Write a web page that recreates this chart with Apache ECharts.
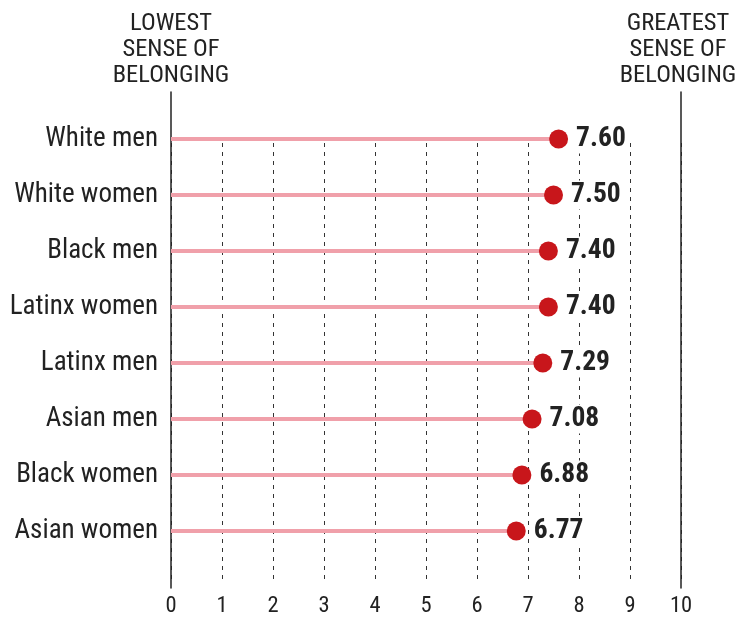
<!DOCTYPE html>
<html><head><meta charset="utf-8">
<script src="https://cdn.jsdelivr.net/npm/echarts@6/dist/echarts.min.js"></script>
<style>html,body{margin:0;padding:0;background:#fff}#c{width:737px;height:618px}</style>
</head><body><div id="c"></div>
<script>
const categories = ['White men','White women','Black men','Latinx women','Latinx men','Asian men','Black women','Asian women'];
const values = [7.60, 7.50, 7.40, 7.40, 7.29, 7.08, 6.88, 6.77];
const xTicks = [0,1,2,3,4,5,6,7,8,9,10];
const leftHeader = 'LOWEST\nSENSE OF\nBELONGING';
const rightHeader = 'GREATEST\nSENSE OF\nBELONGING';

const FONT = '"Roboto Condensed","Liberation Sans Narrow","DejaVu Sans Condensed",sans-serif';
const chart = echarts.init(document.getElementById('c'));
const L = 171, R = 737 - 681;
const headStyle = {fontFamily: FONT, fontSize: 24.5, lineHeight: 26, fill: '#222', textAlign: 'center', textVerticalAlign: 'top'};
chart.setOption({
  animation: false,
  graphic: [
    {type: 'text', x: 171, y: 11, style: Object.assign({text: leftHeader}, headStyle)},
    {type: 'text', x: 678, y: 11, style: Object.assign({text: rightHeader}, headStyle)}
  ],
  grid: [
    {left: L, right: R, top: 92, bottom: 30},
    {left: L, right: R, top: 143, bottom: 30},
    {left: L, right: R, top: 111, bottom: 59}
  ],
  xAxis: [
    {gridIndex: 0, type: 'value', min: 0, max: 10, show: false},
    {gridIndex: 1, type: 'value', min: 0, max: 10, interval: 1,
     axisLine: {show: false}, axisTick: {show: false},
     axisLabel: {margin: 11, fontFamily: FONT, fontSize: 22.5, color: '#222',
       formatter: v => xTicks.indexOf(v) >= 0 ? String(v) : ''},
     splitLine: {show: true, lineStyle: {type: [4, 5], color: '#333', width: 1}}},
    {gridIndex: 2, type: 'value', min: 0, max: 10, show: false}
  ],
  yAxis: [
    {gridIndex: 0, type: 'value', position: 'left', axisLine: {show: true, onZero: false, lineStyle: {color: '#222', width: 1.5}},
     axisTick: {show: false}, axisLabel: {show: false}, splitLine: {show: false}},
    {gridIndex: 0, type: 'value', position: 'right', axisLine: {show: true, onZero: false, lineStyle: {color: '#222', width: 1.5}},
     axisTick: {show: false}, axisLabel: {show: false}, splitLine: {show: false}},
    {gridIndex: 1, type: 'value', show: false},
    {gridIndex: 2, type: 'category', data: categories, inverse: true,
     axisLine: {show: false}, axisTick: {show: false}, splitLine: {show: false},
     axisLabel: {margin: 13, fontFamily: FONT, fontSize: 27, color: '#222'}}
  ],
  series: [
    {type: 'bar', xAxisIndex: 2, yAxisIndex: 3, data: values, barWidth: 4,
     itemStyle: {color: '#f0a0aa'}, silent: true, z: 3},
    {type: 'scatter', xAxisIndex: 2, yAxisIndex: 3, data: values, symbolSize: 19,
     itemStyle: {color: '#c8161b', opacity: 1}, z: 4,
     label: {show: true, position: 'right', distance: 5, formatter: p => p.value.toFixed(2),
       fontFamily: FONT, fontWeight: 'bold', fontSize: 27.5, color: '#222',
       backgroundColor: '#fff', padding: [1, 3, 0, 3]}}
  ]
});
</script></body></html>
